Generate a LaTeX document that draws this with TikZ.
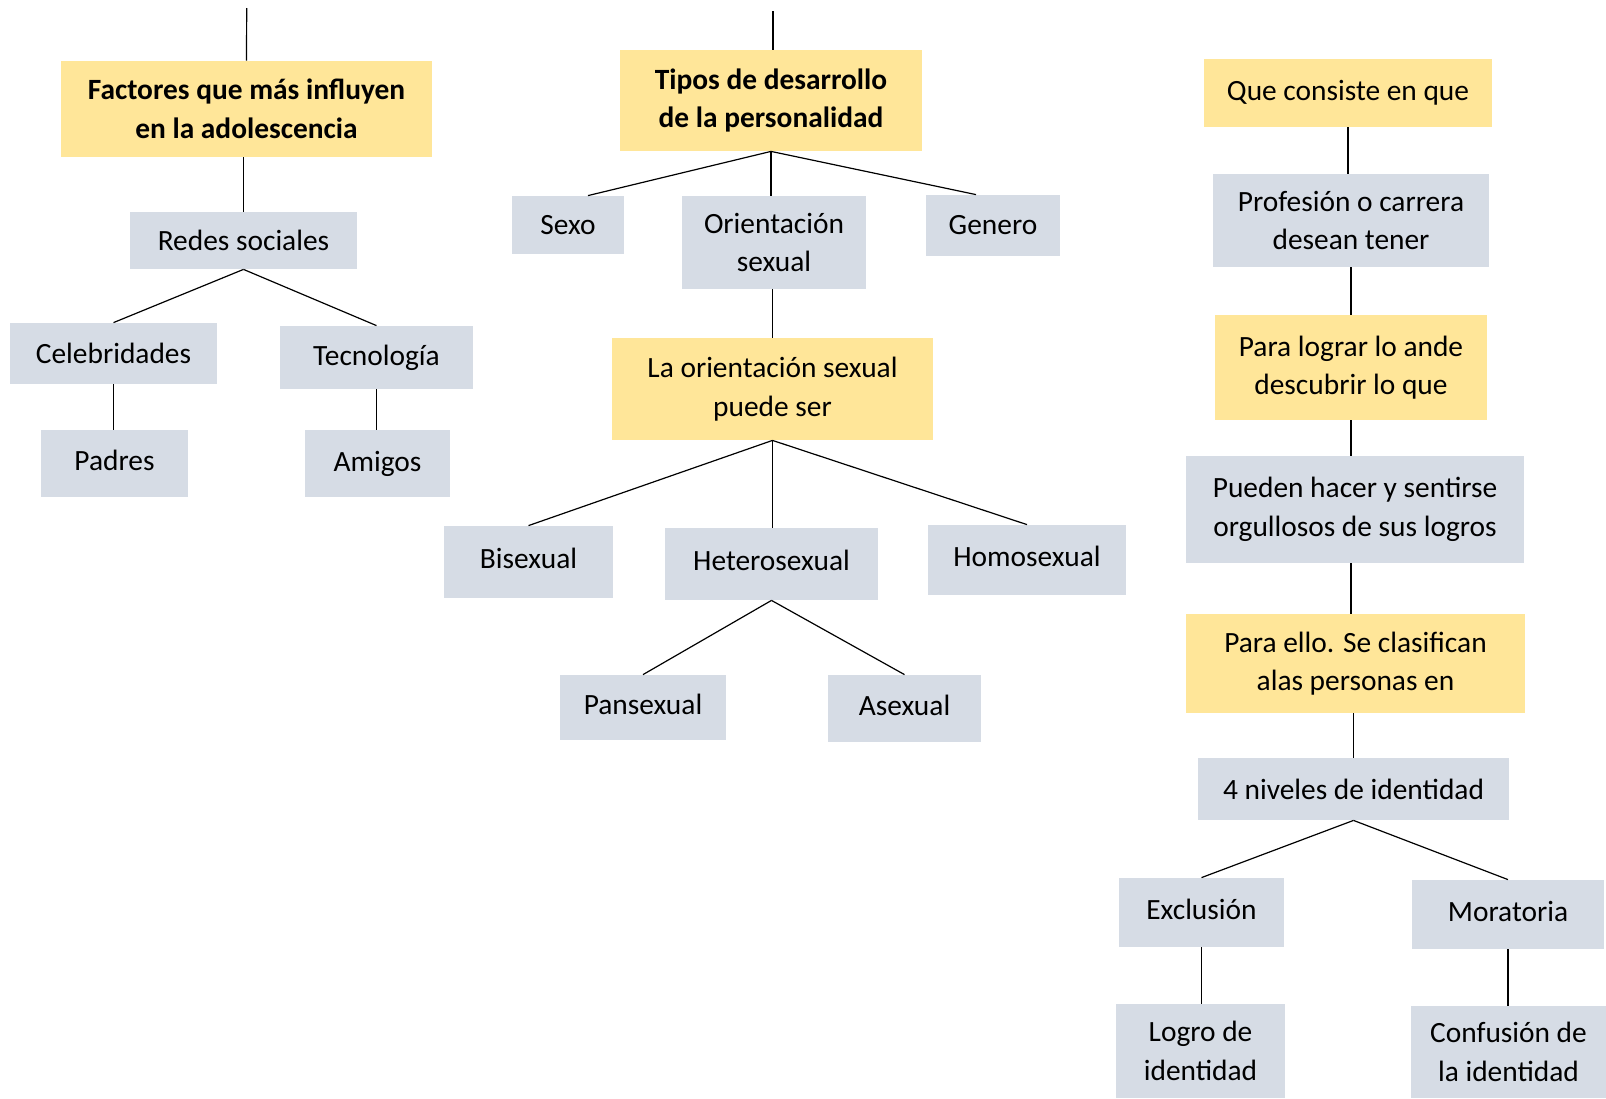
\documentclass[tikz,border=0pt]{standalone}
\usepackage{fontspec}
\setmainfont{Carlito}
\definecolor{amarillo}{HTML}{FFE699}
\definecolor{gris}{HTML}{D6DCE5}

\begin{document}
\begin{tikzpicture}[x=0.5pt, y=-0.5pt, font=\fontsize{14.7}{19.3}\selectfont,
  caja/.style={inner sep=0pt, align=center},
  amar/.style={caja, fill=amarillo},
  gr/.style={caja, fill=gris},
  alto/.style={text depth=0.35em},
  linea/.style={-, line width=0.6pt}]

\useasboundingbox (0,0) rectangle (1606,1098);

% columna izquierda
\coordinate (arriba1) at (246.7,8);
\node[amar, minimum width=185.5pt, minimum height=48pt] (factores) at (246.5,109) {\bfseries Factores que más influyen\\\bfseries en la adolescencia};
\node[gr, minimum width=113.5pt, minimum height=28.5pt] (redes) at (243.5,240.5) {Redes sociales};
\node[gr, minimum width=103.5pt, minimum height=30.5pt] (celeb) at (113.5,353.5) {Celebridades};
\node[gr, minimum width=96.5pt, minimum height=31.5pt] (tecno) at (376.5,357.5) {Tecnología};
\node[gr, alto, minimum width=73.5pt, minimum height=33.5pt] (padres) at (114.5,463.5) {Padres};
\node[gr, minimum width=72.5pt, minimum height=33.5pt] (amigos) at (377.5,463.5) {Amigos};

% columna central
\coordinate (arriba2) at (773,11);
\node[amar, minimum width=151pt, minimum height=50.5pt] (tipos) at (771,100.5) {\bfseries Tipos de desarrollo\\\bfseries de la personalidad};
\node[gr, minimum width=56pt, minimum height=29pt] (sexo) at (568,225) {Sexo};
\node[gr, minimum width=92pt, minimum height=46.5pt] (orient) at (774,242.5) {Orientación\\sexual};
\node[gr, minimum width=67pt, minimum height=30.5pt] (genero) at (993,225.5) {Genero};
\node[amar, minimum width=160.5pt, minimum height=51pt] (puede) at (772.5,389) {La orientación sexual\\puede ser};
\node[gr, alto, minimum width=84.5pt, minimum height=36pt] (bisex) at (528.5,562) {Bisexual};
\node[gr, alto, minimum width=106.5pt, minimum height=36pt] (hetero) at (771.5,564) {Heterosexual};
\node[gr, alto, minimum width=99pt, minimum height=35pt] (homo) at (1027,560) {Homosexual};
\node[gr, alto, minimum width=83pt, minimum height=32.5pt] (pan) at (643,707.5) {Pansexual};
\node[gr, alto, minimum width=76.5pt, minimum height=33.5pt] (asex) at (904.5,708.5) {Asexual};

% columna derecha
\node[amar, minimum width=144pt, minimum height=34pt] (consiste) at (1348,93) {Que consiste en que};
\node[gr, minimum width=138pt, minimum height=46.5pt] (profesion) at (1351,220.5) {Profesión o carrera\\desean tener};
\node[amar, minimum width=136pt, minimum height=52.5pt] (lograr) at (1351,367.5) {Para lograr lo ande\\descubrir lo que};
\node[gr, minimum width=169pt, minimum height=53.5pt] (pueden) at (1355,509.5) {Pueden hacer y sentirse\\orgullosos de sus logros};
\node[amar, minimum width=169.5pt, minimum height=49.5pt] (ello) at (1355.5,663.5) {Para ello. Se clasifican\\alas personas en};
\node[gr, minimum width=155.5pt, minimum height=31pt] (niveles) at (1353.5,789) {4 niveles de identidad};
\node[gr, alto, minimum width=82.5pt, minimum height=34.5pt] (exclusion) at (1201.5,912.5) {Exclusión};
\node[gr, alto, minimum width=96pt, minimum height=34.5pt] (moratoria) at (1508,914.5) {Moratoria};
\node[gr, minimum width=84.5pt, minimum height=47pt] (logro) at (1200.5,1051) {Logro de\\identidad};
\node[gr, minimum width=97.5pt, minimum height=46pt] (confusion) at (1508.5,1052) {Confusión de\\la identidad};

\draw[linea] (arriba1) to (factores.north);
\draw[linea] (redes.north |- factores.south) to (redes.north);
\draw[linea] (redes.south) to (celeb.north);
\draw[linea] (redes.south) to (tecno.north);
\draw[linea] (celeb.south) to (celeb.south |- padres.north);
\draw[linea] (tecno.south) to (tecno.south |- amigos.north);

\draw[linea] (arriba2) to (arriba2 |- tipos.north);
\draw[linea] (tipos.south) to ([xshift=10pt]sexo.north);
\draw[linea] (tipos.south) to (tipos.south |- orient.north);
\draw[linea] (tipos.south) to ([xshift=-8.5pt]genero.north);
\draw[linea] (puede.north |- orient.south) to (puede.north);
\draw[linea] (puede.south) to (bisex.north);
\draw[linea] (puede.south) to (puede.south |- hetero.north);
\draw[linea] (puede.south) to (homo.north);
\draw[linea] (hetero.south) to (pan.north);
\draw[linea] (hetero.south) to (asex.north);

\draw[linea] (consiste.south) to (consiste.south |- profesion.north);
\draw[linea] (profesion.south) to (profesion.south |- lograr.north);
\draw[linea] (lograr.south) to (lograr.south |- pueden.north);
\draw[linea] (lograr.south |- pueden.south) to (lograr.south |- ello.north);
\draw[linea] (niveles.north |- ello.south) to (niveles.north);
\draw[linea] (niveles.south) to (exclusion.north);
\draw[linea] (niveles.south) to (moratoria.north);
\draw[linea] (exclusion.south) to (exclusion.south |- logro.north);
\draw[linea] (moratoria.south) to (moratoria.south |- confusion.north);
\end{tikzpicture}
\end{document}
